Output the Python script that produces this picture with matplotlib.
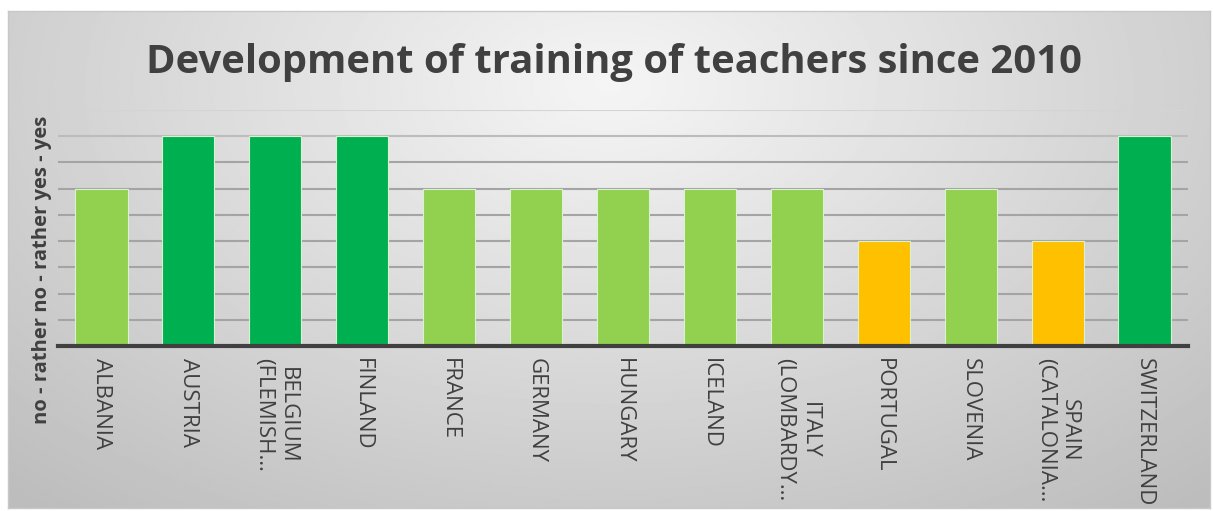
import numpy as np
import matplotlib.pyplot as plt

# data (0 = no ... 4 = yes)
countries = ['ALBANIA', 'AUSTRIA', 'BELGIUM\n(FLEMISH…', 'FINLAND', 'FRANCE', 'GERMANY',
             'HUNGARY', 'ICELAND', 'ITALY\n(LOMBARDY…', 'PORTUGAL', 'SLOVENIA',
             'SPAIN\n(CATALONIA…', 'SWITZERLAND']
values = [3, 4, 4, 4, 3, 3, 3, 3, 3, 2, 3, 2, 4]
colors = {2: '#FFC000', 3: '#92D050', 4: '#00B050'}
grid_levels = [0.5, 1.0, 1.5, 2.0, 2.5, 3.0, 3.5, 4.0, 4.5]

W, H = 1213, 511
fig = plt.figure(figsize=(W / 100, H / 100), dpi=100)
fig.patch.set_facecolor('white')

# background panel with radial gradient
bg = fig.add_axes([8 / W, 1 - 508 / H, (1210 - 8) / W, (508 - 11) / H])
yy, xx = np.mgrid[0:1:300j, 0:1:700j]
r = np.sqrt(((xx - 0.5) / 0.75) ** 2 + ((yy - 0.85) / 1.1) ** 2)
shade = np.clip(0.96 - 0.22 * r, 0.74, 0.96)
bg.imshow(shade, cmap='gray', vmin=0, vmax=1, aspect='auto', origin='lower',
          extent=[0, 1, 0, 1])
bg.set_xlim(0, 1)
bg.set_ylim(0, 1)
bg.set_xticks([])
bg.set_yticks([])
for s in bg.spines.values():
    s.set_color('#c8c8c8')
    s.set_linewidth(1)

# plot area
ax = fig.add_axes([58 / W, 1 - 346 / H, (1188 - 58) / W, (346 - 110) / H])
ax.patch.set_alpha(0)
x = np.arange(len(countries))
ax.bar(x, values, width=0.6, color=[colors[v] for v in values],
       edgecolor='#d9f2d0', linewidth=0.8, zorder=3)
ax.set_xlim(-0.5, len(countries) - 0.5)
ax.set_ylim(0, 4.5)

# gridlines, lighter towards the top like the original
for lev in grid_levels:
    c = '#d4d4d4' if lev == 4.5 else ('#bcbcbc' if lev == 4.0 else '#a4a4a4')
    ax.axhline(lev, color=c, linewidth=1.5, zorder=1)

ax.set_yticks([])
ax.tick_params(axis='x', length=0, pad=9)
ax.set_xticks(x)
ax.set_xticklabels(countries, rotation=-90, ha='center', va='top',
                   multialignment='center', fontsize=16, color='#404040',
                   family='Open Sans')
for s in ['top', 'right', 'left']:
    ax.spines[s].set_visible(False)
ax.spines['bottom'].set_color('#404040')
ax.spines['bottom'].set_linewidth(3)
ax.spines['bottom'].set_zorder(4)

fig.text(614 / W, 1 - 62 / H, 'Development of training of teachers since 2010',
         ha='center', va='center', fontsize=28.8, fontweight='bold',
         color='#404040', family='Open Sans')
fig.text(42 / W, 1 - 270 / H, 'no - rather no - rather yes - yes', rotation=90,
         ha='center', va='center', fontsize=14.5, fontweight='bold',
         color='#404040', family='Open Sans')

fig.savefig('out.png', dpi=100)
